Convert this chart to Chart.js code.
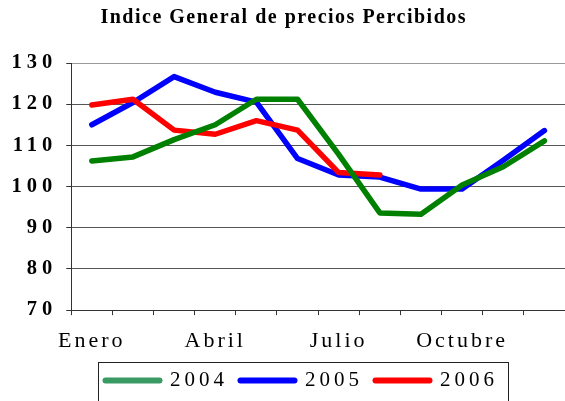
<!DOCTYPE html>
<html>
<head>
<meta charset="utf-8">
<script src="https://cdn.jsdelivr.net/npm/chart.js@4"></script>
<style>
  html, body { margin: 0; padding: 0; background: #fff; }
  #wrap { width: 565px; height: 401px; position: relative; }
</style>
</head>
<body>
<div id="wrap"><canvas id="chart"></canvas></div>
<script>
const MONTHS = ["Enero", "Febrero", "Marzo", "Abril", "Mayo", "Junio", "Julio", "Agosto", "Septiembre", "Octubre", "Noviembre", "Diciembre"];
const SHOWN_MONTHS = ["Enero", "Abril", "Julio", "Octubre"];
const Y_TICKS = [70, 80, 90, 100, 110, 120, 130];

const YEARS = ["2004", "2005", "2006"];
const V2004 = [106.2, 107.2, 111.4, 115, 121.2, 121.2, 107.8, 93.6, 93.3, 100.4, 104.8, 111.1];
const V2005 = [115, 120.4, 126.7, 122.9, 120.5, 106.8, 102.8, 102.3, 99.4, 99.4, 106.4, 113.6];
const V2006 = [119.8, 121.2, 113.7, 112.7, 116, 113.7, 103.4, 102.8];

const LINE_COLORS = ["#008000", "#0000ff", "#ff0000"];
const LEGEND_COLORS = ["#3a9a64", "#0000ff", "#ff0000"];
const SERIF = "'Liberation Serif', 'Times New Roman', serif";

// letter spacing per font size (title, y ticks, x ticks, legend)
const SPACING = { "20": "1.5px", "20.5": "5px", "22": "3px", "21": "4px" };

const letterSpacing = {
  id: "letterSpacing",
  beforeInit(chart) {
    const ctx = chart.ctx;
    ["fillText", "measureText"].forEach((fn) => {
      const orig = ctx[fn].bind(ctx);
      ctx[fn] = (...args) => {
        const size = /(\d+(?:\.\d+)?)px/.exec(ctx.font)?.[1];
        ctx.letterSpacing = SPACING[size] || "0px";
        return orig(...args);
      };
    });
  },
};

/** Nudge the legend into place and frame it like the original. */
const legendFrame = {
  id: "legendFrame",
  afterLayout(chart) {
    const lg = chart.legend;
    lg.left += 18;
    lg.right += 18;
    lg.top -= 10;
    lg.bottom -= 10;
  },
  afterDraw(chart) {
    const lg = chart.legend;
    const pad = lg.options.labels.padding;
    const start = (lg.left + pad + lg.right - lg.lineWidths[0]) / 2;
    const textMid = lg.top + pad + 10.5;
    const { ctx } = chart;
    ctx.save();
    ctx.strokeStyle = "#222";
    ctx.lineWidth = 1;
    const x0 = Math.round(start - 7.5) + 0.5;
    const x1 = Math.round(start + lg.lineWidths[0] - pad + 9.5) + 0.5;
    const y0 = Math.round(textMid - 18.5) + 0.5;
    ctx.strokeRect(x0, y0, x1 - x0, 60);
    ctx.restore();
  },
};

const series = [V2004, V2005, V2006];
const drawOrder = [0, 2, 1];

new Chart(document.getElementById("chart"), {
  type: "line",
  data: {
    labels: MONTHS,
    datasets: YEARS.map((year, i) => ({
      label: year,
      data: series[i],
      borderColor: LINE_COLORS[i],
      backgroundColor: LINE_COLORS[i],
      borderWidth: 5.5,
      borderCapStyle: "round",
      borderJoinStyle: "round",
      pointRadius: 0,
      tension: 0,
      fill: false,
      order: drawOrder[i],
    })),
  },
  options: {
    responsive: true,
    maintainAspectRatio: false,
    animation: false,
    devicePixelRatio: 1,
    layout: { padding: { top: 0, left: 2.5, right: 0, bottom: -10 } },
    plugins: {
      title: {
        display: true,
        text: "Indice General de precios Percibidos",
        color: "#000",
        font: { family: SERIF, size: 20, weight: "bold" },
        padding: { top: 6, bottom: 33 },
      },
      legend: {
        display: true,
        position: "bottom",
        labels: {
          color: "#000",
          font: { family: SERIF, size: 21, weight: "normal" },
          usePointStyle: true,
          pointStyle: "line",
          pointStyleWidth: 54,
          padding: 12.5,
          sort: (a, b) => a.datasetIndex - b.datasetIndex,
          generateLabels(chart) {
            const items = Chart.defaults.plugins.legend.labels.generateLabels(chart);
            return items.map((item) => ({
              ...item,
              strokeStyle: LEGEND_COLORS[item.datasetIndex],
              fillStyle: LEGEND_COLORS[item.datasetIndex],
              lineWidth: 6,
              lineCap: "round",
              pointStyle: "line",
            }));
          },
        },
      },
      tooltip: { enabled: false },
    },
    scales: {
      x: {
        offset: true,
        grid: {
          offset: true,
          drawOnChartArea: false,
          drawTicks: true,
          tickLength: 5,
          tickColor: "#333",
        },
        border: { display: true, color: "#333", width: 1 },
        ticks: {
          autoSkip: false,
          maxRotation: 0,
          padding: 13,
          color: "#000",
          font: { family: SERIF, size: 22, weight: "normal" },
          callback(value, index) {
            const m = MONTHS[index];
            return SHOWN_MONTHS.includes(m) ? m : "";
          },
        },
      },
      y: {
        min: Y_TICKS[0],
        max: Y_TICKS[Y_TICKS.length - 1],
        afterBuildTicks(scale) {
          scale.ticks = Y_TICKS.map((v) => ({ value: v }));
        },
        grid: {
          color: (c) => (c.tick && c.tick.value === 130 ? "#9a9a9a" : "#555"),
          lineWidth: 1,
          drawTicks: true,
          tickLength: 5,
          tickColor: "#333",
        },
        border: { display: true, color: "#333", width: 1 },
        ticks: {
          padding: 9,
          color: "#000",
          font: { family: SERIF, size: 20.5, weight: "bold" },
        },
      },
    },
  },
  plugins: [letterSpacing, legendFrame],
});
</script>
</body>
</html>
